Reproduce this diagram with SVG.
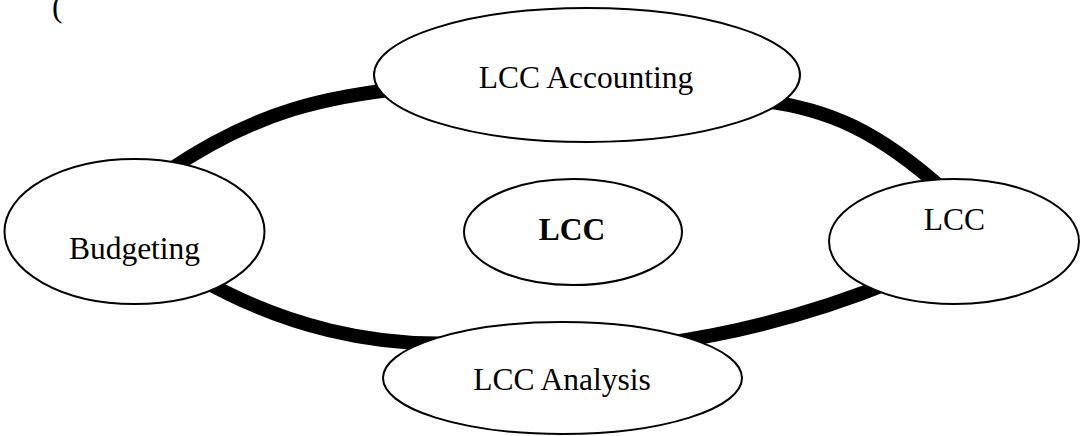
<svg xmlns="http://www.w3.org/2000/svg" width="1083" height="436" viewBox="0 0 1083 436">
<style>
.node{fill:#fff;stroke:#000;stroke-width:2}
.ring{fill:none;stroke:#000;stroke-width:14;stroke-linecap:butt}
.t{font-family:"Liberation Serif","Times New Roman",serif;font-size:31.5px;fill:#000;text-anchor:middle}
.b{font-weight:bold}
</style>
<rect width="1083" height="436" fill="#fff"/>
<text x="52" y="17" class="t" style="text-anchor:start">(</text>
<g id="connectors">
<path class="ring" d="M168,171 C258,109.8 330,95.7 410,87.7"/>
<path class="ring" d="M755,100 C830,107.5 881,133.5 946,192"/>
<path class="ring" d="M895,280.6 C815,313.4 740,332.8 660,344"/>
<path class="ring" d="M460,343 C375,347 285,327 200,278.6"/>
</g>
<g id="node-accounting">
<ellipse class="node" cx="587" cy="75" rx="213" ry="67"/>
<text class="t" x="586" y="88">LCC Accounting</text>
</g>
<g id="node-budgeting">
<ellipse class="node" cx="134.5" cy="231.5" rx="130" ry="72.5"/>
<text class="t" x="134.5" y="259">Budgeting</text>
</g>
<g id="node-center">
<ellipse class="node" cx="573" cy="232" rx="109" ry="53"/>
<text class="t b" x="572" y="240">LCC</text>
</g>
<g id="node-lcc">
<ellipse class="node" cx="954" cy="241.5" rx="125" ry="62.5"/>
<text class="t" x="954.5" y="230">LCC</text>
</g>
<g id="node-analysis">
<ellipse class="node" cx="562.5" cy="378" rx="179.5" ry="56"/>
<text class="t" x="562" y="390">LCC Analysis</text>
</g>
</svg>
